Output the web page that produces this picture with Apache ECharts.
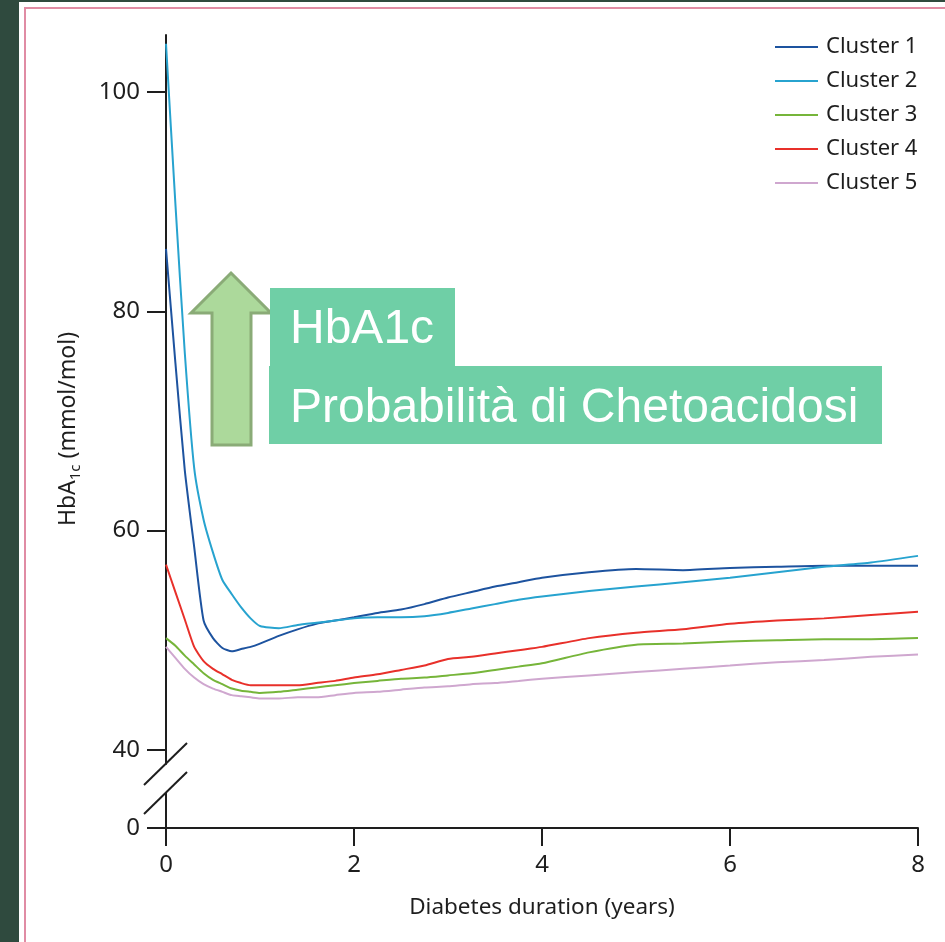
<!DOCTYPE html>
<html>
<head>
<meta charset="utf-8">
<script src="https://cdn.jsdelivr.net/npm/echarts@6/dist/echarts.min.js"></script>
<style>
  html, body { margin: 0; padding: 0; width: 945px; height: 942px; overflow: hidden; background: #2f4a3e; }
  #sheet { position: absolute; left: 19px; top: 2px; right: 0; bottom: 0; background: #ffffff; }
  #rule { position: absolute; left: 24px; top: 7px; right: -4px; bottom: -4px; border-left: 2px solid #e08ca4; border-top: 2px solid #e08ca4; }
  #chart { position: absolute; left: 0; top: 0; width: 945px; height: 942px; }
</style>
</head>
<body>
<div id="sheet"></div>
<div id="rule"></div>
<div id="chart"></div>
<script>
// Diabetes duration (years) at which each cluster's HbA1c is sampled
const years = [0, 0.1, 0.2, 0.3, 0.4, 0.5, 0.6, 0.7, 0.8, 0.9, 1.0, 1.2, 1.4, 1.6, 1.8, 2.0,
  2.25, 2.5, 2.75, 3.0, 3.25, 3.5, 3.75, 4.0, 4.5, 5.0, 5.5, 6.0, 6.5, 7.0, 7.5, 8.0];

// HbA1c (mmol/mol) per cluster
const cluster1 = [85.7, 75.3, 65.5, 58.5, 51.8, 50.2, 49.3, 49.0, 49.2, 49.4, 49.7, 50.4, 51.0, 51.5, 51.8, 52.1,
  52.5, 52.8, 53.3, 53.9, 54.4, 54.9, 55.3, 55.7, 56.2, 56.5, 56.4, 56.6, 56.7, 56.8, 56.8, 56.8];
const cluster2 = [104.4, 89.8, 76.2, 65.7, 61.0, 58.0, 55.5, 54.2, 53.0, 52.0, 51.3, 51.1, 51.4, 51.6, 51.8, 52.0,
  52.1, 52.1, 52.2, 52.5, 52.9, 53.3, 53.7, 54.0, 54.5, 54.9, 55.3, 55.7, 56.2, 56.7, 57.1, 57.7];
const cluster3 = [50.2, 49.5, 48.6, 47.8, 47.0, 46.4, 46.0, 45.6, 45.4, 45.3, 45.2, 45.3, 45.5, 45.7, 45.9, 46.1,
  46.3, 46.5, 46.6, 46.8, 47.0, 47.3, 47.6, 47.9, 48.9, 49.6, 49.7, 49.9, 50.0, 50.1, 50.1, 50.2];
const cluster4 = [56.9, 54.4, 51.9, 49.4, 48.1, 47.4, 46.9, 46.4, 46.1, 45.9, 45.9, 45.9, 45.9, 46.1, 46.3, 46.6,
  46.9, 47.3, 47.7, 48.3, 48.5, 48.8, 49.1, 49.4, 50.2, 50.7, 51.0, 51.5, 51.8, 52.0, 52.3, 52.6];
const cluster5 = [49.4, 48.4, 47.4, 46.6, 46.0, 45.6, 45.3, 45.0, 44.9, 44.8, 44.7, 44.7, 44.8, 44.8, 45.0, 45.2,
  45.3, 45.5, 45.7, 45.8, 46.0, 46.1, 46.3, 46.5, 46.8, 47.1, 47.4, 47.7, 48.0, 48.2, 48.5, 48.7];

const clusterNames = ['Cluster 1', 'Cluster 2', 'Cluster 3', 'Cluster 4', 'Cluster 5'];
const clusterValues = [cluster1, cluster2, cluster3, cluster4, cluster5];
const clusterColors = ['#1d539f', '#27a3cf', '#76b53a', '#e8302a', '#cfa7cf'];

// Axis ticks
const yTicksUpper = [40, 60, 80, 100];
const yTicksLower = [0];
const xTickStep = 2;

// Layout
const AXIS_X = 166, PLOT_RIGHT = 918;
const UPPER_TOP = 35, UPPER_BOTTOM = 764;
const LOWER_TOP = 793, LOWER_BOTTOM = 828;
const AXIS_FONT = 'Noto Sans';
const INK = '#1e1e1e';

const chart = echarts.init(document.getElementById('chart'), null, { renderer: 'canvas' });

const axisLineStyle = { lineStyle: { color: INK, width: 2 } };

const series = clusterNames.map((name, k) => ({
  name,
  type: 'line',
  xAxisIndex: 0,
  yAxisIndex: 0,
  symbol: 'none',
  smooth: 0.2,
  lineStyle: { color: clusterColors[k], width: 2 },
  itemStyle: { color: clusterColors[k] },
  data: years.map((t, i) => [t, clusterValues[k][i]]),
  z: 3
}));

// Break marks on the y axis (two parallel slashes)
function slash(cy) {
  return {
    type: 'line',
    shape: { x1: AXIS_X - 22, y1: cy + 21, x2: AXIS_X + 21, y2: cy - 21 },
    style: { stroke: INK, lineWidth: 2 },
    z: 10
  };
}

chart.setOption({
  animation: false,
  backgroundColor: 'transparent',
  grid: [
    { left: AXIS_X, right: 945 - PLOT_RIGHT, top: UPPER_TOP, height: UPPER_BOTTOM - UPPER_TOP },
    { left: AXIS_X, right: 945 - PLOT_RIGHT, top: LOWER_TOP, height: LOWER_BOTTOM - LOWER_TOP }
  ],
  xAxis: [
    { gridIndex: 0, type: 'value', min: 0, max: 8, show: false },
    {
      gridIndex: 1, type: 'value', min: 0, max: 8, interval: xTickStep,
      axisLine: axisLineStyle,
      axisTick: { length: 18, lineStyle: { color: INK, width: 2 } },
      axisLabel: { color: INK, fontFamily: AXIS_FONT, fontSize: 24, margin: 25 },
      splitLine: { show: false },
      name: 'Diabetes duration (years)',
      nameLocation: 'middle',
      nameGap: 68,
      nameTextStyle: { color: INK, fontFamily: AXIS_FONT, fontSize: 22.5 }
    }
  ],
  yAxis: [
    {
      gridIndex: 0, type: 'value', min: 38.72, max: 105.2,
      axisLine: { show: true, ...axisLineStyle },
      axisTick: { show: true, length: 19, customValues: yTicksUpper, lineStyle: { color: INK, width: 2 } },
      axisLabel: { color: INK, fontFamily: AXIS_FONT, fontSize: 24, margin: 26, customValues: yTicksUpper },
      splitLine: { show: false }
    },
    {
      gridIndex: 1, type: 'value', min: 0, max: 3.19,
      axisLine: { show: true, ...axisLineStyle },
      axisTick: { show: true, length: 19, customValues: yTicksLower, lineStyle: { color: INK, width: 2 } },
      axisLabel: { color: INK, fontFamily: AXIS_FONT, fontSize: 24, margin: 26, customValues: yTicksLower },
      splitLine: { show: false }
    }
  ],
  legend: {
    orient: 'vertical',
    left: 775,
    top: 35,
    padding: 0,
    icon: 'rect',
    itemWidth: 43,
    itemHeight: 2,
    itemGap: 10,
    data: clusterNames,
    textStyle: { color: INK, fontFamily: AXIS_FONT, fontSize: 22, lineHeight: 24, padding: [0, 0, 0, 3] }
  },
  graphic: [
    slash(UPPER_BOTTOM),
    slash(LOWER_TOP),
    {
      type: 'text',
      x: 68, y: 429,
      rotation: Math.PI / 2,
      style: {
        text: '{m|HbA}{s|1c}{m| (mmol/mol)}',
        align: 'center',
        verticalAlign: 'middle',
        fill: INK,
        rich: {
          m: { fontFamily: AXIS_FONT, fontSize: 23, lineHeight: 30, verticalAlign: 'middle', fill: INK },
          s: { fontFamily: AXIS_FONT, fontSize: 15, lineHeight: 30, verticalAlign: 'bottom', fill: INK }
        }
      }
    },
    {
      type: 'polygon',
      shape: { points: [[231, 273], [271, 313], [251, 313], [251, 445], [212, 445], [212, 313], [191, 313]] },
      style: { fill: '#acd99b', stroke: '#8aab77', lineWidth: 3 },
      z: 20
    },
    {
      type: 'rect',
      shape: { x: 270, y: 288, width: 185, height: 79 },
      style: { fill: '#6fcfa6' },
      z: 20
    },
    {
      type: 'rect',
      shape: { x: 269, y: 366, width: 613, height: 78 },
      style: { fill: '#6fcfa6' },
      z: 20
    },
    {
      type: 'text',
      x: 290, y: 330,
      style: { text: 'HbA1c', fill: '#ffffff', fontFamily: 'Liberation Sans', fontSize: 48, verticalAlign: 'middle' },
      z: 21
    },
    {
      type: 'text',
      x: 290, y: 409,
      style: { text: 'Probabilità di Chetoacidosi', fill: '#ffffff', fontFamily: 'Liberation Sans', fontSize: 48, verticalAlign: 'middle' },
      z: 21
    }
  ],
  series
});
</script>
</body>
</html>
